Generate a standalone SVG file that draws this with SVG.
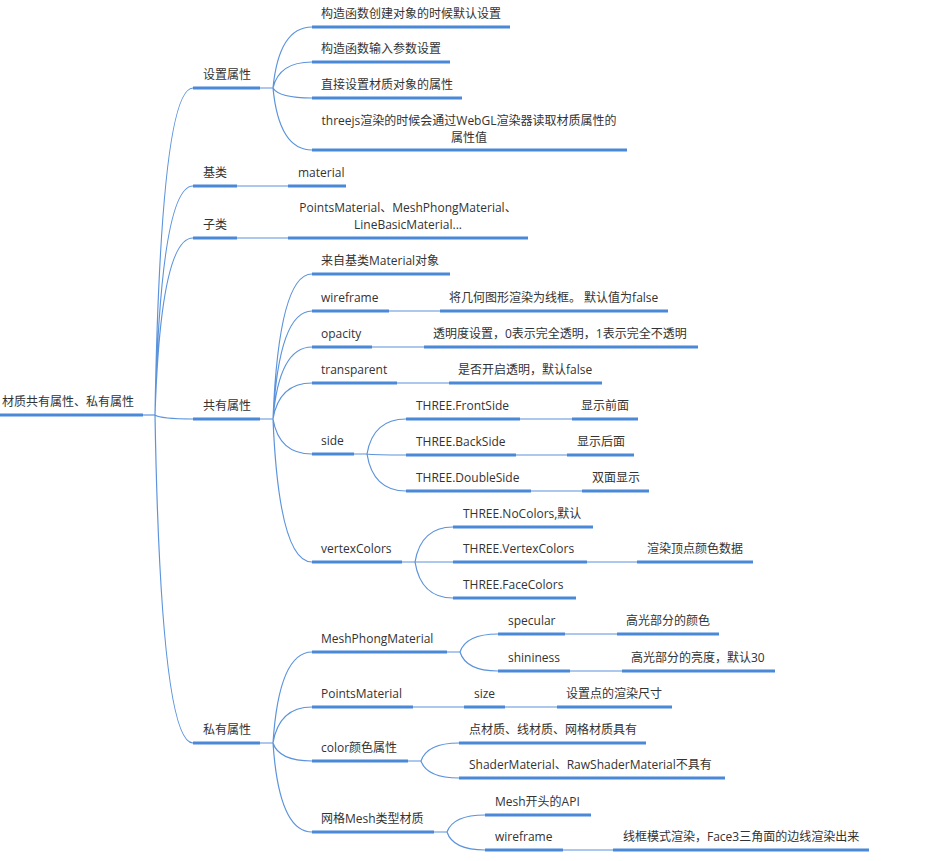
<svg xmlns="http://www.w3.org/2000/svg" width="926" height="861" viewBox="0 0 926 861">
<style>
text{font-family:"Open Sans","Noto Sans CJK SC",sans-serif;font-size:12px;fill:#333}
.u{stroke:#4a88d8;stroke-width:3;fill:none}
.c{stroke:#5b93dc;stroke-width:1.2;fill:none}
.m{text-anchor:middle}
</style>
<rect width="926" height="861" fill="#fff"/>
<g id="connectors">
<path class="c" d="M143 415H155"/>
<path class="c" d="M155 415Q160.7 88 193 88M155 415Q160.7 186 193 186M155 415Q160.7 238 193 238M155 415Q160.7 419 193 419M155 415Q160.7 743 193 743"/>
<path class="c" d="M260 88H273M273 88Q279 27 312 27M273 88Q279 62 312 62M273 88Q279 98 312 98M273 88Q279 150 312 150"/>
<path class="c" d="M237 186H288M237 238H288"/>
<path class="c" d="M260 419H273M273 419Q279 274 312 274M273 419Q279 311 312 311M273 419Q279 347 312 347M273 419Q279 383 312 383M273 419Q279 454 312 454M273 419Q279 562 312 562"/>
<path class="c" d="M389 311H440M372 347H424M397 383H449"/>
<path class="c" d="M354 454H367M367 454Q373 419 406 419M367 454Q373 455 406 455M367 454Q373 491 406 491"/>
<path class="c" d="M520 419H572M516 455H567M531 491H582"/>
<path class="c" d="M402 562H415M415 562Q421 527 453 527M415 562Q421 562 453 562M415 562Q421 598 453 598M587 562H637"/>
<path class="c" d="M260 743H273M273 743Q279 652 312 652M273 743Q279 707 312 707M273 743Q279 761 312 761M273 743Q279 832 312 832"/>
<path class="c" d="M447 652H460M460 652Q466 634 498 634M460 652Q466 671 498 671M565 634H617M570 671H622"/>
<path class="c" d="M413 707H464M505 707H557"/>
<path class="c" d="M408 761H421M421 761Q427 743 459 743M421 761Q427 778 459 778"/>
<path class="c" d="M434 832H447M447 832Q453 815 485 815M447 832Q453 850 485 850M563 850H613"/>
</g>
<g id="root"><text x="2" y="406">材质共有属性、私有属性</text><path class="u" d="M0 415H143"/></g>
<g id="n1"><text x="203" y="79">设置属性</text><path class="u" d="M193 88H260"/></g>
<g id="n1a"><text x="321" y="18">构造函数创建对象的时候默认设置</text><path class="u" d="M312 27H510"/></g>
<g id="n1b"><text x="321" y="53">构造函数输入参数设置</text><path class="u" d="M312 62H450"/></g>
<g id="n1c"><text x="321" y="89">直接设置材质对象的属性</text><path class="u" d="M312 98H462"/></g>
<g id="n1d"><text class="m" x="469" y="125">threejs渲染的时候会通过WebGL渲染器读取材质属性的</text><text class="m" x="469" y="142">属性值</text><path class="u" d="M312 150H627"/></g>
<g id="n2"><text x="203" y="177">基类</text><path class="u" d="M193 186H237"/></g>
<g id="n2a"><text x="298" y="177">material</text><path class="u" d="M288 186H346"/></g>
<g id="n3"><text x="203" y="229">子类</text><path class="u" d="M193 238H237"/></g>
<g id="n3a"><text class="m" x="408" y="212">PointsMaterial、MeshPhongMaterial、</text><text class="m" x="408" y="229">LineBasicMaterial...</text><path class="u" d="M288 238H528"/></g>
<g id="n4"><text x="203" y="410">共有属性</text><path class="u" d="M193 419H260"/></g>
<g id="n4a"><text x="321" y="265">来自基类Material对象</text><path class="u" d="M312 274H450"/></g>
<g id="n4b"><text x="321" y="302">wireframe</text><path class="u" d="M312 311H389"/></g>
<g id="n4b1"><text x="449" y="302">将几何图形渲染为线框。 默认值为false</text><path class="u" d="M440 311H668"/></g>
<g id="n4c"><text x="321" y="338">opacity</text><path class="u" d="M312 347H372"/></g>
<g id="n4c1"><text x="433" y="338">透明度设置，0表示完全透明，1表示完全不透明</text><path class="u" d="M424 347H698"/></g>
<g id="n4d"><text x="321" y="374">transparent</text><path class="u" d="M312 383H397"/></g>
<g id="n4d1"><text x="458" y="374">是否开启透明，默认false</text><path class="u" d="M449 383H602"/></g>
<g id="n4e"><text x="321" y="445">side</text><path class="u" d="M312 454H354"/></g>
<g id="n4e1"><text x="416" y="410">THREE.FrontSide</text><path class="u" d="M406 419H520"/></g>
<g id="n4e1a"><text x="581" y="410">显示前面</text><path class="u" d="M572 419H638"/></g>
<g id="n4e2"><text x="416" y="446">THREE.BackSide</text><path class="u" d="M406 455H516"/></g>
<g id="n4e2a"><text x="577" y="446">显示后面</text><path class="u" d="M567 455H634"/></g>
<g id="n4e3"><text x="416" y="482">THREE.DoubleSide</text><path class="u" d="M406 491H531"/></g>
<g id="n4e3a"><text x="592" y="482">双面显示</text><path class="u" d="M582 491H649"/></g>
<g id="n4f"><text x="321" y="553">vertexColors</text><path class="u" d="M312 562H402"/></g>
<g id="n4f1"><text x="463" y="518">THREE.NoColors,默认</text><path class="u" d="M453 527H593"/></g>
<g id="n4f2"><text x="463" y="553">THREE.VertexColors</text><path class="u" d="M453 562H587"/></g>
<g id="n4f2a"><text x="647" y="553">渲染顶点颜色数据</text><path class="u" d="M637 562H753"/></g>
<g id="n4f3"><text x="463" y="589">THREE.FaceColors</text><path class="u" d="M453 598H576"/></g>
<g id="n5"><text x="203" y="734">私有属性</text><path class="u" d="M193 743H260"/></g>
<g id="n5a"><text x="321" y="643">MeshPhongMaterial</text><path class="u" d="M312 652H447"/></g>
<g id="n5a1"><text x="508" y="625">specular</text><path class="u" d="M498 634H565"/></g>
<g id="n5a1a"><text x="626" y="625">高光部分的颜色</text><path class="u" d="M617 634H719"/></g>
<g id="n5a2"><text x="508" y="662">shininess</text><path class="u" d="M498 671H570"/></g>
<g id="n5a2a"><text x="631" y="662">高光部分的亮度，默认30</text><path class="u" d="M622 671H775"/></g>
<g id="n5b"><text x="321" y="698">PointsMaterial</text><path class="u" d="M312 707H413"/></g>
<g id="n5b1"><text x="474" y="698">size</text><path class="u" d="M464 707H505"/></g>
<g id="n5b1a"><text x="566" y="698">设置点的渲染尺寸</text><path class="u" d="M557 707H672"/></g>
<g id="n5c"><text x="321" y="752">color颜色属性</text><path class="u" d="M312 761H408"/></g>
<g id="n5c1"><text x="469" y="734">点材质、线材质、网格材质具有</text><path class="u" d="M459 743H646"/></g>
<g id="n5c2"><text x="469" y="769">ShaderMaterial、RawShaderMaterial不具有</text><path class="u" d="M459 778H725"/></g>
<g id="n5d"><text x="321" y="823">网格Mesh类型材质</text><path class="u" d="M312 832H434"/></g>
<g id="n5d1"><text x="495" y="806">Mesh开头的API</text><path class="u" d="M485 815H591"/></g>
<g id="n5d2"><text x="495" y="841">wireframe</text><path class="u" d="M485 850H563"/></g>
<g id="n5d2a"><text x="623" y="841">线框模式渲染，Face3三角面的边线渲染出来</text><path class="u" d="M613 850H869"/></g>
</svg>
